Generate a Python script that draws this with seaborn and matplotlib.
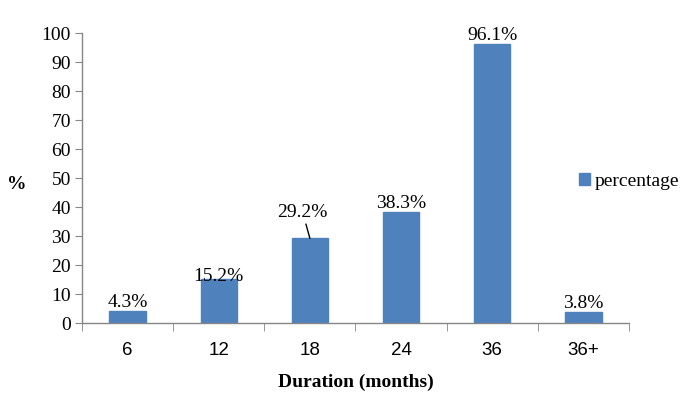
import numpy as np
import pandas as pd
import seaborn as sns
import matplotlib.pyplot as plt

durations = ["6", "12", "18", "24", "36", "36+"]
percentages = [4.3, 15.2, 29.2, 38.3, 96.1, 3.8]
value_labels = ["4.3%", "15.2%", "29.2%", "38.3%", "96.1%", "3.8%"]
series_name = "percentage"

df = pd.DataFrame({"duration": durations, "pct": percentages, "series": series_name})

sns.set_style("white")
plt.rcParams["font.family"] = ["Liberation Serif", "DejaVu Serif"]
plt.rcParams["text.color"] = "black"
plt.rcParams["axes.labelcolor"] = "black"
plt.rcParams["xtick.labelcolor"] = "black"
plt.rcParams["ytick.labelcolor"] = "black"

fig = plt.figure(figsize=(6.85, 3.93), dpi=100)
ax = fig.add_axes([0.1197, 0.178, 0.7985, 0.738])

sns.barplot(data=df, x="duration", y="pct", hue="series", palette=["#4F81BD"],
            saturation=1, width=0.4, ax=ax, legend=True, edgecolor="#4F81BD")

ax.set_ylim(0, 100)
ax.set_xlim(-0.5, len(durations) - 0.5)
ax.set_yticks(np.arange(0, 101, 10))
ax.tick_params(axis="y", labelsize=14, length=5, color="#868686", direction="out",
               left=True, pad=3, labelcolor="black")
ax.tick_params(axis="x", which="major", length=0, pad=14, labelcolor="black")
for lab in ax.get_xticklabels():
    lab.set_fontfamily("Liberation Sans")
    lab.set_fontsize(13.5)
ax.set_xticks(np.arange(-0.5, len(durations), 1), minor=True)
ax.tick_params(axis="x", which="minor", length=6, color="#868686", bottom=True)

for side in ["top", "right"]:
    ax.spines[side].set_visible(False)
for side in ["left", "bottom"]:
    ax.spines[side].set_color("#868686")
    ax.spines[side].set_linewidth(1.0)

# value labels
for i, (v, txt) in enumerate(zip(percentages, value_labels)):
    if txt == "29.2%":
        ax.annotate(txt, xy=(i, v), xytext=(i - 0.08, v + 9), ha="center", va="center",
                    fontsize=14, arrowprops=dict(arrowstyle="-", color="black", lw=1,
                                                 shrinkA=0, shrinkB=0))
    elif txt == "15.2%":
        ax.text(i, v + 1, txt, ha="center", va="center", fontsize=14)
    else:
        ax.annotate(txt, xy=(i, v), xytext=(0, 0), textcoords="offset points",
                    ha="center", va="bottom", fontsize=14)

ax.set_xlabel("Duration (months)", fontsize=14, fontweight="bold", labelpad=10)
ax.set_ylabel("%", fontsize=14, fontweight="bold", rotation=0, labelpad=0)
ax.yaxis.set_label_coords(-0.12, 0.45)

leg = ax.legend(loc="center left", bbox_to_anchor=(0.845, 0.538), frameon=False,
                fontsize=14, handlelength=0.6, handleheight=0.6, handletextpad=0.2,
                borderaxespad=0, borderpad=0, bbox_transform=fig.transFigure)

fig.savefig("out.png", dpi=100)
